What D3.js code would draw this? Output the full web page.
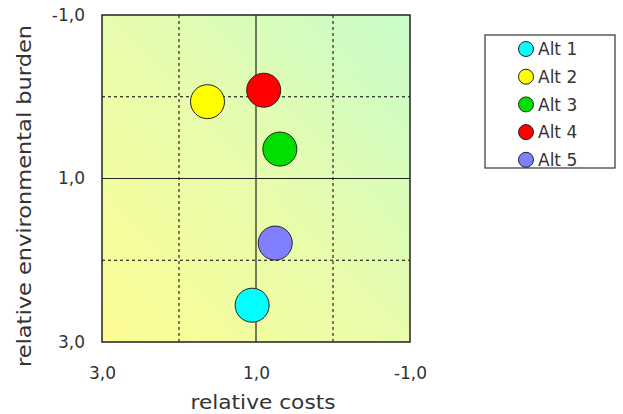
<!DOCTYPE html>
<html><head><meta charset="utf-8">
<script src="https://cdn.jsdelivr.net/npm/d3@7"></script>
<style>body{margin:0;background:#fff;} text{font-family:"DejaVu Sans",sans-serif;}</style>
</head><body>
<svg id="c" width="623" height="414"></svg>
<script>
const names = ["Alt 1","Alt 2","Alt 3","Alt 4","Alt 5"];
const costs = [1.05, 1.63, 0.69, 0.90, 0.75];
const burden = [2.55, 0.06, 0.64, -0.08, 1.79];
const colors = ["#00ffff","#ffff00","#00e000","#ff0000","#8080ff"];
const xTicks = [3, 1, -1];
const yTicks = [-1, 1, 3];
const gridVals = [2, 0];

const svg = d3.select("#c");
const L=102, R=410, T=15, B=342;
const x = d3.scaleLinear().domain([3,-1]).range([L,R]);
const y = d3.scaleLinear().domain([-1,3]).range([T,B]);
const fmt = v => d3.format(".1f")(v).replace(".", ",").replace("\u2212", "-");

const defs = svg.append("defs");
const g = defs.append("linearGradient").attr("id","bg").attr("x1","0").attr("y1","1").attr("x2","1").attr("y2","0");
g.append("stop").attr("offset","0").attr("stop-color","#fdfc94");
g.append("stop").attr("offset","0.5").attr("stop-color","#e8fcac");
g.append("stop").attr("offset","1").attr("stop-color","#c8fcca");

svg.append("rect").attr("x",L).attr("y",T).attr("width",R-L).attr("height",B-T).attr("fill","url(#bg)");

// dashed grid
svg.selectAll(".vd").data(gridVals).enter().append("line")
  .attr("x1",d=>x(d)).attr("x2",d=>x(d)).attr("y1",T).attr("y2",B)
  .attr("stroke","#000").attr("stroke-width",1).attr("stroke-dasharray","3,3");
svg.selectAll(".hd").data(gridVals).enter().append("line")
  .attr("y1",d=>y(d)).attr("y2",d=>y(d)).attr("x1",L).attr("x2",R)
  .attr("stroke","#000").attr("stroke-width",1).attr("stroke-dasharray","3,3");
// solid center lines
svg.append("line").attr("x1",x(1)).attr("x2",x(1)).attr("y1",T).attr("y2",B).attr("stroke","#222").attr("stroke-width",1.2);
svg.append("line").attr("y1",y(1)).attr("y2",y(1)).attr("x1",L).attr("x2",R).attr("stroke","#222").attr("stroke-width",1.2);
svg.append("rect").attr("x",L).attr("y",T).attr("width",R-L).attr("height",B-T).attr("fill","none").attr("stroke","#222").attr("stroke-width",1.5);

// axes labels
const xa = svg.append("g").attr("transform",`translate(0,${B+31})`)
  .call(d3.axisBottom(x).tickValues(xTicks).tickFormat(fmt).tickSize(0).tickPadding(0));
xa.select(".domain").remove();
xa.selectAll("text").attr("font-size",17).attr("fill","#333").attr("dy","0.35em")
  .style("font-family","'DejaVu Sans', sans-serif");
const ya = svg.append("g").attr("transform",`translate(${L-17},0)`)
  .call(d3.axisLeft(y).tickValues(yTicks).tickFormat(fmt).tickSize(0).tickPadding(0));
ya.select(".domain").remove();
ya.selectAll("text").attr("font-size",17).attr("fill","#333")
  .style("font-family","'DejaVu Sans', sans-serif");

svg.append("text").attr("x",263).attr("y",402).attr("dy","0.35em").attr("text-anchor","middle")
  .attr("font-size",19).attr("fill","#333").attr("textLength",145).attr("lengthAdjust","spacingAndGlyphs").text("relative costs");
svg.append("text").attr("transform","translate(24,196) rotate(-90)").attr("dy","0.35em").attr("text-anchor","middle")
  .attr("font-size",19).attr("fill","#333").attr("textLength",342).attr("lengthAdjust","spacingAndGlyphs").text("relative environmental burden");

// points
const data = names.map((n,i)=>({n, c:costs[i], b:burden[i], col:colors[i]}));
svg.selectAll(".pt").data(data).enter().append("circle")
  .attr("cx",d=>x(d.c)).attr("cy",d=>y(d.b)).attr("r",17)
  .attr("fill",d=>d.col).attr("stroke","#222").attr("stroke-width",1);

// legend
svg.append("rect").attr("x",485).attr("y",35).attr("width",130).attr("height",133)
  .attr("fill","#fff").attr("stroke","#333").attr("stroke-width",1.2);
const lg = svg.selectAll(".lg").data(data).enter().append("g")
  .attr("transform",(d,i)=>`translate(526,${49+i*27.7})`);
lg.append("circle").attr("r",7.5).attr("fill",d=>d.col).attr("stroke","#222").attr("stroke-width",1);
lg.append("text").attr("x",12).attr("dy","0.36em").attr("font-size",17).attr("fill","#333").text(d=>d.n);
</script>
</body></html>
